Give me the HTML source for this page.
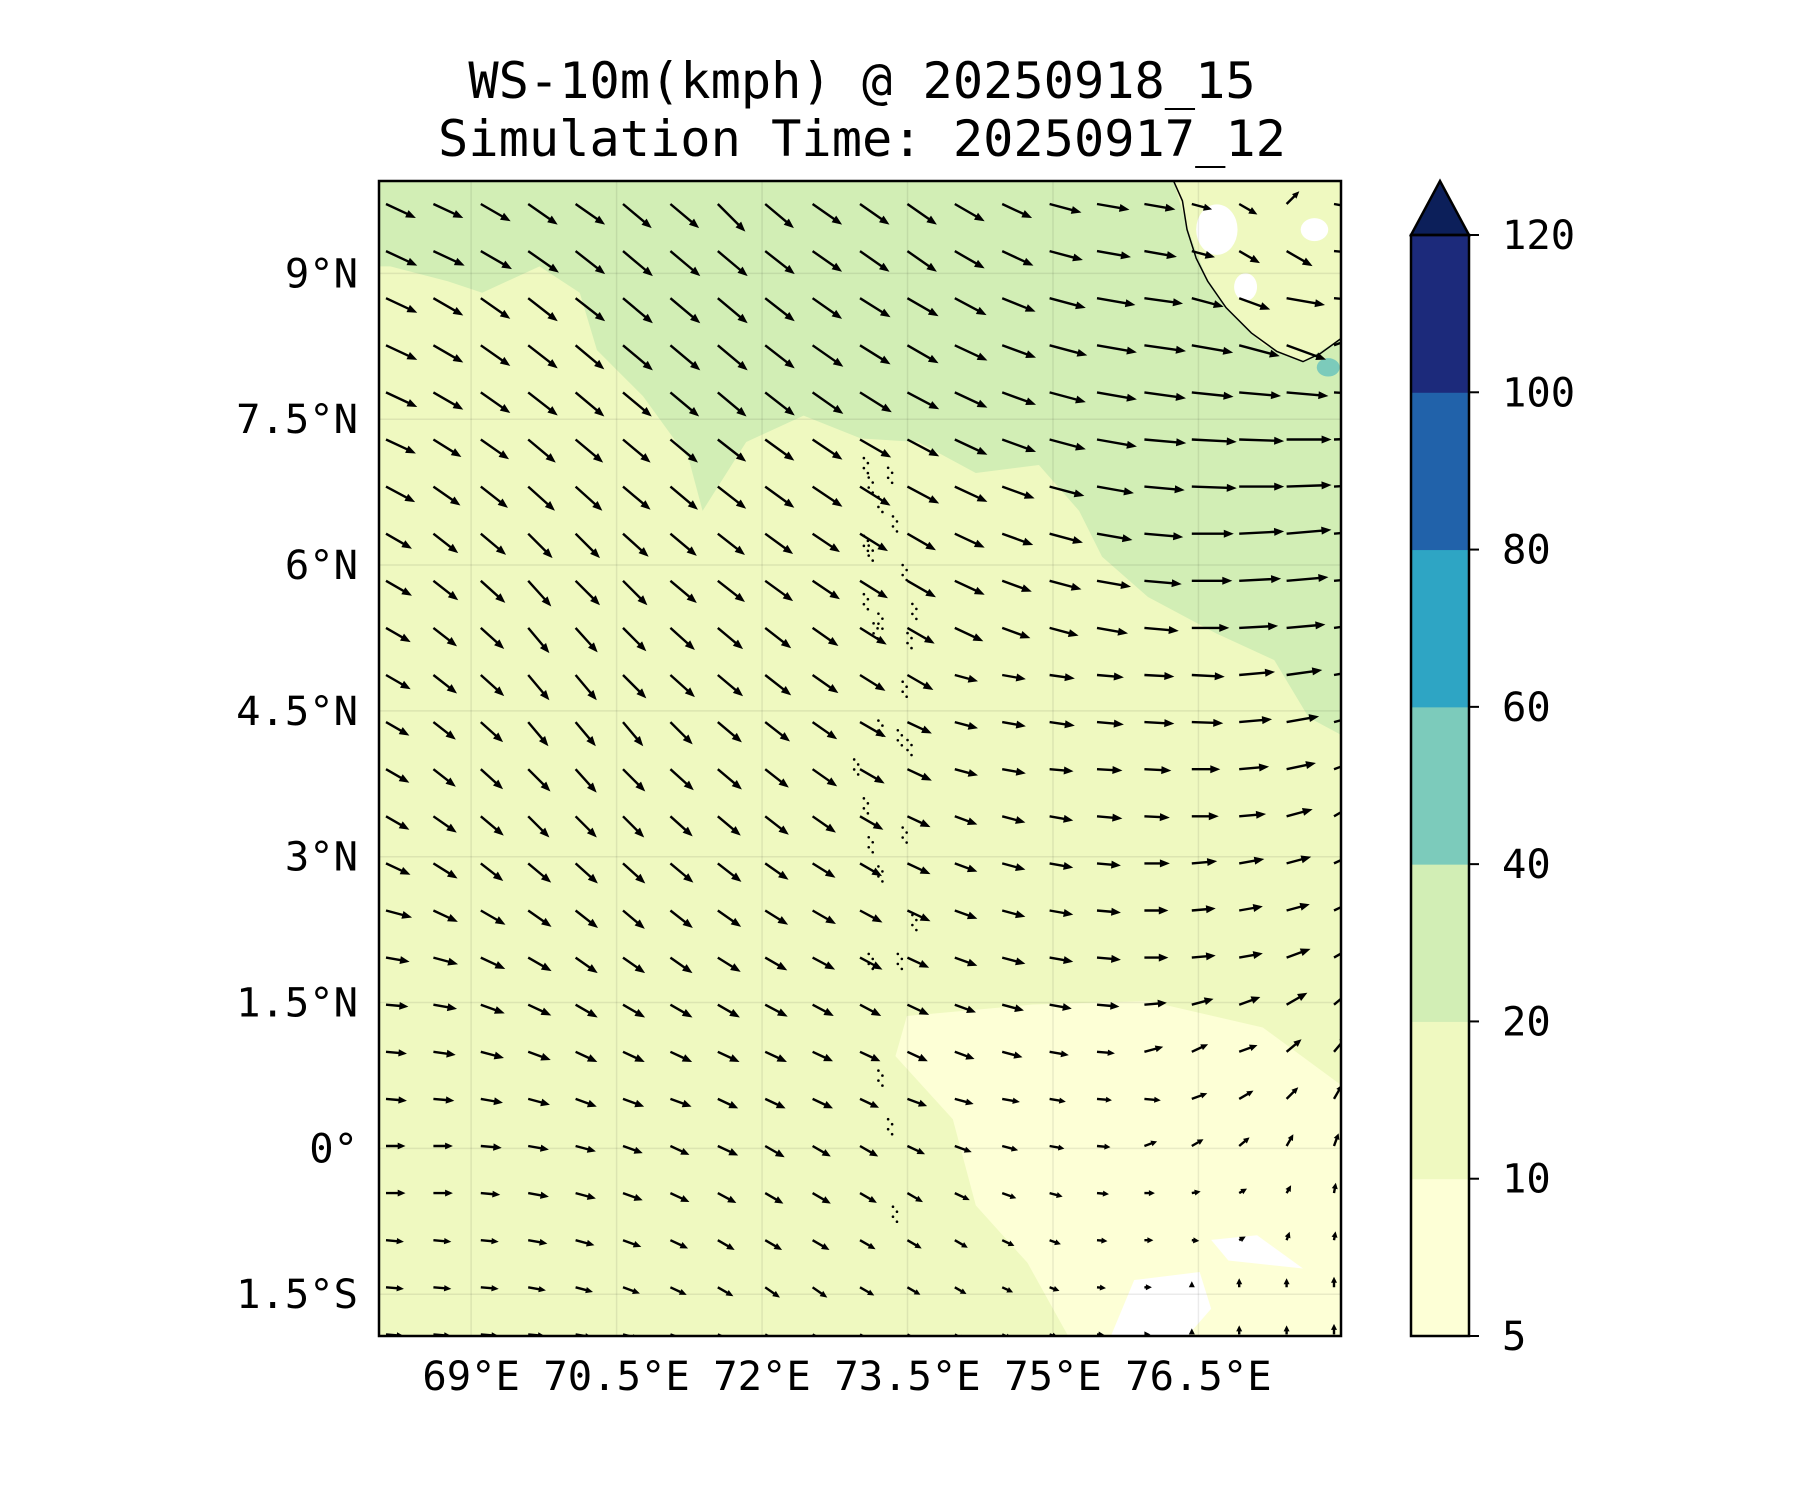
<!DOCTYPE html>
<html><head><meta charset="utf-8"><style>
html,body{margin:0;padding:0;background:#fff;}
svg{display:block;font-family:"DejaVu Sans Mono","Liberation Mono",monospace;}
</style></head><body>
<svg id="chart" width="1800" height="1500" viewBox="0 0 1800 1500">
<text x="862" y="98" font-size="50.3" text-anchor="middle">WS-10m(kmph) @ 20250918_15</text>
<text x="862" y="156" font-size="50.3" text-anchor="middle">Simulation Time: 20250917_12</text>
<defs><clipPath id="pc"><rect x="379" y="181" width="962" height="1155"/></clipPath></defs>
<g clip-path="url(#pc)">
 <rect x="379" y="181" width="962" height="1155" fill="#eff9c0"/>
 <g transform="scale(1.148)">
  <polygon fill="#d2eeb5" points="330,157 1168,157 1168,640 1140,625 1110,575 1060,552 1000,520 960,485 940,445 905,405 850,412 800,385 750,382 700,362 650,385 612,445 600,400 560,345 520,305 505,255 470,232 420,255 390,245 340,232 330,232"/>
  <polygon fill="#fdffd6" points="790,885 900,875 1000,872 1100,895 1168,945 1168,1163 930,1163 895,1100 850,1050 830,975 780,920"/>
  <polygon fill="#ffffff" points="968,1163 988,1115 1045,1108 1055,1140 1035,1163"/>
  <polygon fill="#ffffff" points="1055,1080 1095,1076 1135,1105 1070,1098"/>
  <polygon fill="#eff9c0" points="1022,157 1168,157 1168,295 1135,315 1100,300 1070,270 1050,240 1035,200"/>
  <ellipse cx="1060" cy="200" rx="18" ry="22" fill="#fff"/>
  <ellipse cx="1145" cy="200" rx="12" ry="10" fill="#fff"/>
  <ellipse cx="1085" cy="250" rx="10" ry="12" fill="#fff"/>
  <ellipse cx="1157" cy="320" rx="10" ry="8" fill="#7ccbbb"/>
  <polyline fill="none" stroke="#000" stroke-width="1.3" points="1022,157 1030,175 1034,200 1042,225 1052,245 1068,268 1090,290 1112,306 1135,315 1150,308 1168,295"/>
 </g>
 <g id="grid"></g>
 <g id="islands"></g>
 <g id="arrows"></g>
</g>
<rect x="379" y="181" width="962" height="1155" fill="none" stroke="#000" stroke-width="2.5"/>
<g id="yt"></g>
<g id="xt"></g>
<g id="cb"></g>
</svg>
<script>
const latTicks=[9,7.5,6,4.5,3,1.5,0,-1.5];
const latLabels=["9°N","7.5°N","6°N","4.5°N","3°N","1.5°N","0°","1.5°S"];
const lonTicks=[69,70.5,72,73.5,75,76.5];
const lonLabels=["69°E","70.5°E","72°E","73.5°E","75°E","76.5°E"];
const cbLevels=[5,10,20,40,60,80,100,120];
const cbColors=["#fdffd6","#eff9c0","#d2eeb5","#7ccbbb","#2ea5c4","#2162aa","#1c2a7b"];
const extendColor="#0c1f5a";
// wind direction (deg, clockwise from east on screen) per row, north to south
const dirs=[
[25,25,30,35,35,40,40,45,40,35,35,35,30,25,15,10,10,15,30,-45,10],
[25,25,30,35,38,40,40,40,38,35,35,35,30,25,15,10,10,15,30,30,5],
[25,30,35,38,38,40,40,40,38,35,32,30,28,22,15,10,8,15,20,10,5],
[25,30,35,38,40,40,40,40,38,35,32,30,25,20,15,10,8,10,15,20,-20],
[25,30,35,38,40,40,40,40,38,35,32,28,25,20,15,10,8,6,5,5,3],
[25,32,35,40,40,40,40,38,36,34,30,28,25,20,15,10,5,3,2,0,-2],
[28,35,38,42,42,40,40,38,36,34,32,28,25,20,15,10,5,2,0,-2,-3],
[30,38,40,45,45,42,40,38,36,34,32,30,25,20,15,10,5,0,-3,-5,-5],
[30,38,42,48,45,45,40,38,36,34,32,30,25,20,15,10,5,0,-3,-5,-5],
[30,38,42,50,48,45,42,40,38,35,32,30,25,20,15,10,5,0,-3,-5,-8],
[30,38,42,50,50,45,42,40,38,35,32,30,15,10,8,5,3,3,-5,-8,-10],
[30,38,42,50,50,50,45,40,38,35,30,25,15,10,8,5,3,2,-5,-10,-15],
[30,38,42,45,48,45,42,40,38,35,30,25,15,10,5,3,3,0,-5,-12,-20],
[30,35,40,45,45,45,42,40,38,35,30,25,20,15,10,5,3,0,-5,-15,-30],
[25,32,38,40,42,42,40,38,35,32,30,25,20,15,10,5,0,-5,-10,-15,-25],
[15,25,30,35,38,40,38,35,32,30,28,25,20,15,10,5,0,-5,-10,-15,-25],
[10,15,25,30,35,35,35,32,30,28,28,25,20,15,10,5,0,-5,-10,-20,-30],
[5,10,20,25,30,30,30,30,28,28,28,25,20,15,10,5,-5,-15,-20,-30,-40],
[5,8,15,20,25,25,25,25,25,25,25,25,20,15,10,5,-15,-25,-20,-40,-50],
[5,5,10,15,20,20,20,25,25,25,25,20,15,10,10,5,5,-20,-30,-45,-60],
[0,0,5,10,15,20,25,25,30,30,30,25,20,15,10,5,-20,-30,-40,-60,-70],
[0,0,5,10,15,20,25,28,30,30,30,30,25,20,15,5,0,-10,-30,-60,-80],
[5,5,5,10,15,20,25,30,30,30,30,30,30,25,20,5,0,5,-30,-70,-80],
[5,5,5,10,15,20,25,30,35,35,30,30,30,25,20,5,0,-90,-90,-90,-90],
[5,5,5,5,10,15,20,25,30,30,30,30,30,25,20,5,0,-90,-90,-90,-90]
];
// wind speed (kmph) per row
const speeds=[
[22,22,23,24,24,25,25,26,25,24,24,24,23,22,22,22,21,14,14,12,9],
[23,23,24,25,25,26,26,26,25,24,24,24,23,23,23,23,22,16,16,20,10],
[23,23,24,25,25,26,26,26,25,24,24,24,24,24,25,26,26,22,22,26,16],
[23,23,24,25,25,26,26,26,25,25,24,24,24,24,26,27,28,28,28,28,14],
[23,23,24,25,25,25,25,25,25,25,25,24,24,24,25,27,28,28,28,28,26],
[22,22,23,24,24,24,24,24,24,24,24,24,24,24,25,27,28,30,30,30,30],
[22,22,23,24,24,24,24,24,24,24,24,24,24,23,24,25,27,30,30,30,30],
[20,21,22,23,23,23,23,23,23,22,22,22,22,22,23,24,26,28,30,30,30],
[20,21,22,23,23,23,23,23,23,22,22,22,22,21,22,23,25,27,28,28,28],
[19,20,21,22,22,22,22,22,22,21,21,21,21,20,20,21,23,25,26,26,26],
[19,20,21,22,22,22,22,22,22,21,20,20,16,16,17,18,20,22,24,24,24],
[18,19,20,21,21,21,21,21,21,20,20,18,16,16,17,18,20,21,22,22,22],
[18,19,20,21,21,21,21,21,20,20,19,18,16,16,16,17,18,19,20,20,20],
[18,19,20,20,20,20,20,20,20,19,18,17,16,16,16,17,17,18,18,18,18],
[18,19,19,20,20,20,20,20,19,18,17,17,16,16,16,16,17,17,17,17,18],
[18,18,19,19,19,19,19,19,18,18,17,17,16,16,16,16,16,16,16,16,17],
[16,17,18,18,18,18,18,18,17,17,17,16,16,16,16,16,16,16,16,17,18],
[15,16,17,17,17,17,17,17,17,16,16,16,15,15,15,15,15,15,15,16,17],
[14,15,16,16,16,16,16,16,16,15,15,15,14,14,13,12,13,12,13,13,14],
[14,14,15,15,15,15,15,15,15,15,14,14,13,12,11,10,11,11,11,11,11],
[13,13,14,14,14,14,14,15,15,14,14,13,12,11,10,9,9,9,9,9,9],
[13,13,13,14,14,14,14,14,14,14,13,12,11,10,9,8,7,6,6,6,7],
[12,12,12,13,13,13,13,13,13,13,12,11,10,9,8,7,6,5,5,6,6],
[12,12,12,12,12,12,12,12,12,12,11,10,9,8,7,6,5,4,6,6,7],
[12,12,12,11,11,11,11,11,11,11,10,9,8,7,6,5,4,4,6,6,7]
];
const islandLon=[73.05,73.1,73.2,73.3,73.05,73.1,73.35,73.45,73.2,73.05,73.15,73.5,73.55,73.45,73.2,72.95,73.05,73.4,73.5,73.1,73.2,73.45,73.55,73.1,73.4,73.2,73.3,73.35];
const islandLat=[7.1,6.9,6.7,7.0,6.3,6.2,6.5,6.0,5.5,5.7,5.4,5.3,5.6,4.8,4.4,4.0,3.6,4.3,4.2,3.2,2.9,3.3,2.4,2.0,2.0,0.8,0.3,-0.6];

const X0=379,X1=1341,Y0=181,Y1=1336,LON0=68.05,LON1=77.97,LAT0=9.95,LAT1=-1.93;
function xPos(lon){return X0+(lon-LON0)/(LON1-LON0)*(X1-X0);}
function yPos(lat){return Y0+(lat-LAT0)/(LAT1-LAT0)*(Y1-Y0);}
const NS="http://www.w3.org/2000/svg";
function mk(tag,attrs,parent){const e=document.createElementNS(NS,tag);for(const k in attrs)e.setAttribute(k,attrs[k]);parent.appendChild(e);return e;}

const grid=document.getElementById('grid');
latTicks.forEach(v=>{const l=mk('line',{x1:X0,x2:X1,y1:yPos(v),y2:yPos(v),stroke:'#000','stroke-opacity':0.08,'stroke-width':1.5},grid);

});
lonTicks.forEach(v=>{const l=mk('line',{y1:Y0,y2:Y1,x1:xPos(v),x2:xPos(v),stroke:'#000','stroke-opacity':0.08,'stroke-width':1.5},grid);

});

const yt=document.getElementById('yt');
latTicks.forEach((v,i)=>{const t=mk('text',{x:358,y:yPos(v)+14,'font-size':40.5,'text-anchor':'end'},yt);t.textContent=latLabels[i];

});
const xt=document.getElementById('xt');
lonTicks.forEach((v,i)=>{const t=mk('text',{x:xPos(v),y:1390,'font-size':40.5,'text-anchor':'middle'},xt);t.textContent=lonLabels[i];

});

const isl=document.getElementById('islands');
islandLon.forEach((lo,i)=>{for(let k=0;k<4;k++){const c=mk('circle',{cx:xPos(lo)+(k%2)*4,cy:yPos(islandLat[i])+k*5,r:1.3,fill:'#000'},isl);

}});

const ar=document.getElementById('arrows');
const KPX=1.5;
const ROW0=204, ROWSTEP=47.1, COL0=386, COLSTEP=47.4;
for(let i=0;i<dirs.length;i++){for(let j=0;j<dirs[i].length;j++){
 const lon=LON0+(COL0+j*COLSTEP-X0)/(X1-X0)*(LON1-LON0);
 const lat=LAT0+(ROW0+i*ROWSTEP-Y0)/(Y1-Y0)*(LAT1-LAT0);
 const L=speeds[i][j]*KPX, a=dirs[i][j];
 const hl=Math.min(10,Math.max(6,L*0.4)), hw=Math.min(8,Math.max(6,L*0.35)), w=2.4;
 const pts=[[0,-w/2],[L-hl,-w/2],[L-hl,-hw/2],[L,0],[L-hl,hw/2],[L-hl,w/2],[0,w/2]].map(p=>p.join(',')).join(' ');
 const p=mk('polygon',{points:pts,fill:'#000',transform:`translate(${xPos(lon).toFixed(1)},${yPos(lat).toFixed(1)}) rotate(${a})`},ar);
 
 
}}

const cb=document.getElementById('cb');
const CX=1411,CW=58,CT=235,CB=1336;
const step=(CB-CT)/(cbLevels.length-1);
cbColors.forEach((c,i)=>{const r=mk('rect',{x:CX,y:CB-(i+1)*step,width:CW,height:step+0.5,fill:c},cb);

});
const tri=mk('polygon',{points:`${CX},${CT} ${CX+CW},${CT} ${CX+CW/2},181`,fill:extendColor,stroke:'#000','stroke-width':2.5},cb);


const fr=mk('rect',{x:CX,y:CT,width:CW,height:CB-CT,fill:'none',stroke:'#000','stroke-width':2.5},cb);


cbLevels.forEach((v,i)=>{const y=CB-i*step;
 const tk=mk('line',{x1:CX+CW,x2:CX+CW+10,y1:y,y2:y,stroke:'#000','stroke-width':2},cb);
 
 
 const t=mk('text',{x:1502,y:y+14,'font-size':40.5},cb);t.textContent=v;
 
 });
</script>
</body></html>
